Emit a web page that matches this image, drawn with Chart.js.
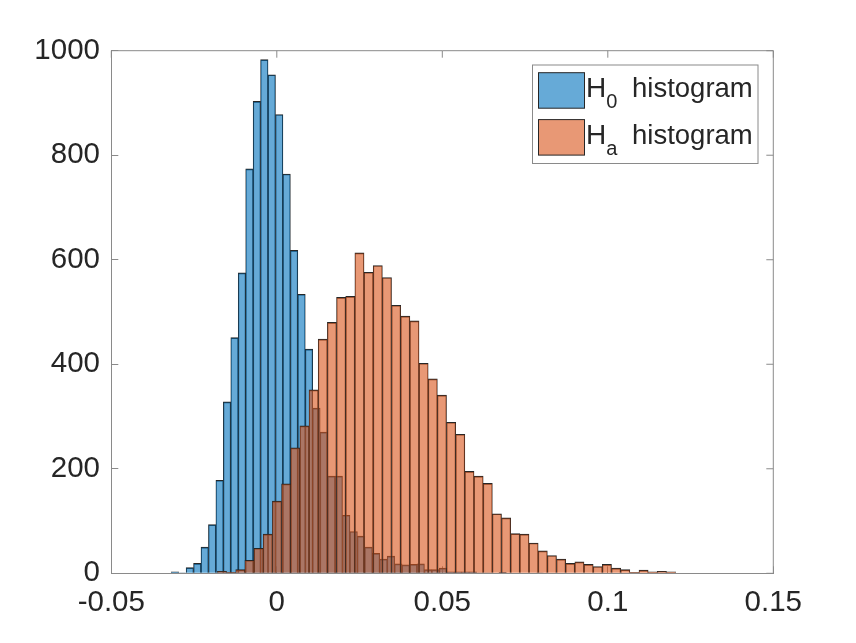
<!DOCTYPE html>
<html lang="en">
<head>
    <meta charset="UTF-8">
    <title>H0 / Ha histograms</title>
    <script src="https://cdn.jsdelivr.net/npm/chart.js"></script>
    <style>
        html, body { margin: 0; padding: 0; background: #fff; }
        #wrap { width: 856px; height: 643px; position: relative; }
    </style>
</head>
<body>
    <div id="wrap"><canvas id="histChart"></canvas></div>

    <script>
        // Histogram H0: first bin edge, bin width, counts per bin
        const h0Start = -0.0319;
        const h0Width = 0.00225;
        const h0Counts = [3, 1, 11, 19, 50, 93, 178, 328, 451, 575,
                          774, 903, 983, 954, 878, 764, 618, 534, 429, 316,
                          270, 186, 186, 111, 80, 71, 50, 38, 27, 33,
                          18, 16, 17, 18, 7, 7, 10, 3, 3, 3,
                          3, 1, 1, 0, 2, 0, 0, 0, 0, 1];

        // Histogram Ha
        const haStart = -0.01795;
        const haWidth = 0.002769;
        const haCounts = [4, 2, 7, 25, 48, 75, 138, 171, 240, 282,
                          351, 448, 480, 528, 530, 613, 576, 589, 566, 513,
                          492, 483, 402, 372, 341, 289, 266, 195, 186, 172,
                          114, 106, 76, 75, 58, 43, 34, 27, 19, 22,
                          17, 13, 17, 10, 7, 2, 6, 3, 4, 3];

        // Axes
        const xTicks = [-0.05, 0, 0.05, 0.1, 0.15];
        const yTicks = [0, 200, 400, 600, 800, 1000];

        // Legend text (H with subscript)
        const legendMain = ['H', 'H'];
        const legendSub = ['0', 'a'];
        const legendRest = ['histogram', 'histogram'];

        const blueFill = 'rgba(0, 114, 189, 0.6)';
        const orangeFill = 'rgba(217, 83, 25, 0.6)';
        const edgeColor = '#262626';
        const axisColor = '#8a8a8a';
        const textColor = '#262626';
        const fontFamily = '"Liberation Sans", Arial, Helvetica, sans-serif';

        function toBars(start, width, counts) {
            return counts.map((c, i) => ({ x: start + (i + 0.5) * width, y: c }));
        }

        // box on top/right + legend drawn inside the axes
        const boxAndLegend = {
            id: 'boxAndLegend',
            afterDraw(chart) {
                const ctx = chart.ctx;
                const a = chart.chartArea;
                const sx = chart.scales.x, sy = chart.scales.y;
                ctx.save();
                ctx.strokeStyle = axisColor;
                ctx.lineWidth = 1;
                ctx.beginPath();
                ctx.moveTo(a.left, a.top);
                ctx.lineTo(a.right, a.top);
                ctx.lineTo(a.right, a.bottom);
                xTicks.forEach(v => {
                    const px = sx.getPixelForValue(v);
                    ctx.moveTo(px, a.top);
                    ctx.lineTo(px, a.top + 7);
                });
                yTicks.forEach(v => {
                    const py = sy.getPixelForValue(v);
                    ctx.moveTo(a.right, py);
                    ctx.lineTo(a.right - 7, py);
                });
                ctx.stroke();

                // legend
                const lx = 532.5, ly = 65, lw = 225.5, lh = 98.5;
                ctx.fillStyle = '#fff';
                ctx.fillRect(lx, ly, lw, lh);
                ctx.strokeRect(lx, ly, lw, lh);
                const fills = ['rgb(102, 170, 215)', 'rgb(232, 152, 117)'];
                const rowTop = [72.7, 119.6];
                ctx.textBaseline = 'alphabetic';
                ctx.textAlign = 'left';
                for (let i = 0; i < 2; i++) {
                    ctx.fillStyle = fills[i];
                    ctx.fillRect(538.5, rowTop[i], 46, 35.5);
                    ctx.strokeStyle = edgeColor;
                    ctx.strokeRect(538.5, rowTop[i], 46, 35.5);
                    const base = rowTop[i] + 24;
                    ctx.fillStyle = textColor;
                    ctx.font = '28px ' + fontFamily;
                    ctx.fillText(legendMain[i], 586, base);
                    const hw = ctx.measureText(legendMain[i]).width;
                    ctx.font = '20px ' + fontFamily;
                    ctx.fillText(legendSub[i], 586 + hw, base + 11.6);
                    ctx.font = '27.5px ' + fontFamily;
                    ctx.fillText(legendRest[i], 632, base);
                }
                ctx.restore();
            }
        };

        const ctx = document.getElementById('histChart').getContext('2d');
        const histChart = new Chart(ctx, {
            type: 'bar',
            data: {
                datasets: [{
                    label: legendMain[0] + legendSub[0] + ' ' + legendRest[0],
                    data: toBars(h0Start, h0Width, h0Counts),
                    backgroundColor: blueFill,
                    borderColor: edgeColor,
                    borderWidth: { top: 1, left: 0.6, right: 0.6, bottom: 0 },
                    categoryPercentage: 1,
                    barPercentage: 1,
                    grouped: false,
                    order: 1,   // drawn first, Ha goes over it
                    xAxisID: 'x'
                }, {
                    label: legendMain[1] + legendSub[1] + ' ' + legendRest[1],
                    data: toBars(haStart, haWidth, haCounts),
                    backgroundColor: orangeFill,
                    borderColor: edgeColor,
                    borderWidth: { top: 1, left: 0.6, right: 0.6, bottom: 0 },
                    categoryPercentage: 1,
                    barPercentage: 1,
                    grouped: false,
                    order: 0,
                    xAxisID: 'x2'
                }]
            },
            options: {
                responsive: true,
                maintainAspectRatio: false,
                animation: false,
                layout: { padding: { top: 50.7, right: 82.7, left: 0, bottom: 0 } },
                plugins: {
                    legend: { display: false },
                    tooltip: { enabled: false }
                },
                scales: {
                    x: {
                        type: 'linear',
                        min: -0.05,
                        max: 0.15,
                        offset: false,
                        afterBuildTicks: s => { s.ticks = xTicks.map(v => ({ value: v })); },
                        afterFit: s => { s.height = 69.7; s.paddingLeft = 0; s.paddingRight = 0; },
                        grid: { offset: false, drawOnChartArea: false, color: axisColor, tickLength: -7 },
                        border: { color: axisColor },
                        ticks: {
                            padding: 19,
                            maxRotation: 0,
                            color: textColor,
                            font: { family: fontFamily, size: 29.5 },
                            callback: v => String(v)
                        }
                    },
                    x2: {
                        type: 'linear',
                        display: false,
                        min: -0.05,
                        max: 0.15,
                        offset: false,
                        grid: { offset: false }
                    },
                    y: {
                        min: 0,
                        max: 1000,
                        afterBuildTicks: s => { s.ticks = yTicks.map(v => ({ value: v })); },
                        afterFit: s => { s.width = 111.3; s.paddingTop = 0; s.paddingBottom = 0; },
                        grid: { drawOnChartArea: false, color: axisColor, tickLength: -7 },
                        border: { color: axisColor },
                        ticks: {
                            padding: 18.3,
                            color: textColor,
                            font: { family: fontFamily, size: 29.5 },
                            callback: v => String(v)
                        }
                    }
                }
            },
            plugins: [boxAndLegend]
        });
    </script>
</body>
</html>
